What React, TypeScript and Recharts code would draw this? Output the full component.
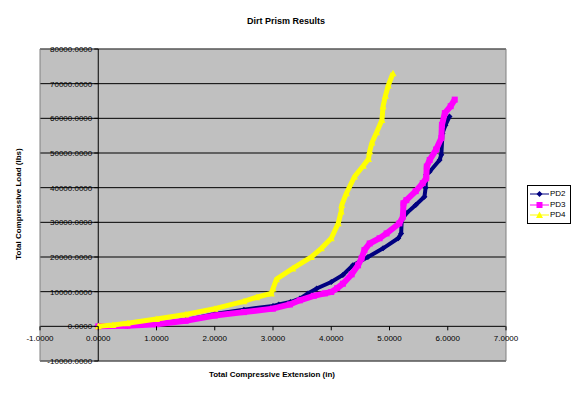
import React from "react";
import {
  ScatterChart,
  Scatter,
  XAxis,
  YAxis,
  CartesianGrid,
  ReferenceLine,
  ReferenceArea,
} from "recharts";

// Total compressive extension (in) / load (lbs)
const PD2_X = [0, 0.5, 1.0, 1.5, 2.0, 2.5, 3.0, 3.1, 3.3, 3.46, 3.6, 3.75, 4.0, 4.2, 4.37, 4.63, 4.89, 5.15, 5.2, 5.21, 5.29, 5.45, 5.6, 5.62, 5.63, 5.69, 5.86, 5.89, 5.91, 5.96, 6.03];
const PD2_Y = [0, 150, 700, 1800, 3600, 4800, 5900, 6300, 7000, 8000, 9500, 10900, 12800, 14800, 17600, 20000, 22500, 25400, 26800, 30700, 32600, 35000, 37400, 40000, 43700, 44600, 48000, 49500, 55700, 58000, 60500];

const PD3_X = [0, 0.5, 1.0, 1.5, 2.0, 2.5, 3.0, 3.29, 3.46, 3.7, 3.89, 4.0, 4.1, 4.2, 4.35, 4.46, 4.52, 4.57, 4.66, 4.83, 4.95, 5.17, 5.23, 5.24, 5.29, 5.45, 5.57, 5.63, 5.64, 5.69, 5.8, 5.89, 5.9, 5.95, 6.05, 6.12];
const PD3_Y = [0, 200, 600, 1600, 3100, 4100, 5100, 6300, 7500, 8800, 9500, 9900, 11000, 12300, 15000, 17600, 19600, 22000, 23900, 25400, 26800, 29700, 31600, 35500, 36400, 39000, 41300, 42700, 46100, 48000, 51000, 54300, 58100, 61500, 63500, 65400];

const PD4_X = [0, 0.25, 0.5, 1.0, 1.5, 2.0, 2.5, 2.72, 2.97, 3.0, 3.06, 3.34, 3.66, 3.83, 4.0, 4.12, 4.17, 4.18, 4.26, 4.4, 4.55, 4.64, 4.66, 4.7, 4.78, 4.87, 4.89, 4.93, 4.98, 5.06];
const PD4_Y = [0, 400, 900, 2100, 3400, 5100, 7200, 8400, 9500, 10900, 13600, 16700, 20000, 22500, 25400, 29700, 33100, 35000, 38400, 43200, 46300, 48300, 50500, 53000, 56000, 59500, 63500, 66500, 69500, 73000];

const X_TICKS = [-1, 0, 1, 2, 3, 4, 5, 6, 7];
const Y_TICKS = [-10000, 0, 10000, 20000, 30000, 40000, 50000, 60000, 70000, 80000];

const W = 575;
const H = 393;
const AX_X_H = 20;
const AX_Y_W = 20;
// plot area: left 40, right 506, top 49, bottom 361
const M = { top: 49, right: 69, bottom: 32 - AX_X_H, left: 40 - AX_Y_W };
const X_DOM: [number, number] = [-1, 7];
const Y_DOM: [number, number] = [-10000, 80000];
const PLOT_L = M.left + AX_Y_W;
const PLOT_W = W - PLOT_L - M.right;
const PLOT_H = H - M.top - M.bottom - AX_X_H;
// where the axes cross (x = 0, y = 0)
const ZERO_X = PLOT_L + (PLOT_W * (0 - X_DOM[0])) / (X_DOM[1] - X_DOM[0]);
const ZERO_Y = M.top + (PLOT_H * (Y_DOM[1] - 0)) / (Y_DOM[1] - Y_DOM[0]);

const FONT = "'Liberation Sans', Arial, sans-serif";

const zip = (xs: number[], ys: number[]) => xs.map((x, i) => ({ x, y: ys[i] }));

const SERIES = [
  { name: "PD2", color: "#000080", data: zip(PD2_X, PD2_Y), width: 4, marker: "diamond" },
  { name: "PD3", color: "#FF00FF", data: zip(PD3_X, PD3_Y), width: 6, marker: "square" },
  { name: "PD4", color: "#FFFF00", data: zip(PD4_X, PD4_Y), width: 5, marker: "triangle" },
];

function Marker({ kind, cx, cy, color }: { kind: string; cx: number; cy: number; color: string }) {
  if (kind === "diamond") {
    return <polygon points={`${cx},${cy - 3} ${cx + 3},${cy} ${cx},${cy + 3} ${cx - 3},${cy}`} fill={color} />;
  }
  if (kind === "square") {
    return <rect x={cx - 3} y={cy - 3} width={6} height={6} fill={color} />;
  }
  return <polygon points={`${cx},${cy - 3.5} ${cx + 3.5},${cy + 3} ${cx - 3.5},${cy + 3}`} fill={color} />;
}

const renderXTick = (props: any) => {
  const { x, payload } = props;
  return (
    <g>
      <line x1={x} x2={x} y1={ZERO_Y} y2={ZERO_Y + 4} stroke="#000" />
      <text x={x} y={ZERO_Y + 15} textAnchor="middle" fontSize={8} fontFamily={FONT} fill="#000">
        {Number(payload.value).toFixed(4)}
      </text>
    </g>
  );
};

const renderYTick = (props: any) => {
  const { y, payload } = props;
  return (
    <g>
      <line x1={ZERO_X - 4} x2={ZERO_X} y1={y} y2={y} stroke="#000" />
      <text x={ZERO_X - 6} y={y + 3} textAnchor="end" fontSize={8} fontFamily={FONT} fill="#000">
        {Number(payload.value).toFixed(4)}
      </text>
    </g>
  );
};

const LegendBox = () => (
  <div
    style={{
      position: "absolute",
      left: 527,
      top: 185,
      border: "1px solid #000",
      background: "#fff",
      padding: "3px 1px 2px 2px",
      fontSize: 8,
      lineHeight: "10.5px",
      width: 39,
    }}
  >
    {SERIES.map((s) => (
      <div key={s.name} style={{ display: "flex", alignItems: "center", height: 10.5 }}>
        <svg width={19} height={10} style={{ display: "block" }}>
          <line x1={0} x2={19} y1={5} y2={5} stroke={s.color} strokeWidth={1} />
          <Marker kind={s.marker} cx={9.5} cy={5} color={s.color} />
        </svg>
        <span style={{ marginLeft: 1 }}>{s.name}</span>
      </div>
    ))}
  </div>
);

export default function App() {
  return (
    <div style={{ position: "absolute", left: 0, top: 0, width: W, height: H, background: "#fff", fontFamily: FONT }}>
      <ScatterChart width={W} height={H} margin={M}>
        <CartesianGrid vertical={false} stroke="#000" fill="#C0C0C0" fillOpacity={1} />
        <XAxis
          type="number"
          dataKey="x"
          domain={X_DOM}
          ticks={X_TICKS}
          allowDataOverflow
          height={AX_X_H}
          axisLine={false}
          tickLine={false}
          tick={renderXTick}
          interval={0}
        />
        <YAxis
          type="number"
          dataKey="y"
          domain={Y_DOM}
          ticks={Y_TICKS}
          allowDataOverflow
          width={AX_Y_W}
          axisLine={false}
          tickLine={false}
          tick={renderYTick}
          interval={0}
        />
        <ReferenceArea x1={X_DOM[0]} x2={X_DOM[1]} y1={Y_DOM[0]} y2={Y_DOM[1]} fill="none" stroke="#808080" strokeWidth={1} />
        <ReferenceLine x={0} stroke="#000" strokeWidth={1} />
        {SERIES.map((s) => (
          <Scatter
            key={s.name}
            name={s.name}
            data={s.data}
            fill={s.color}
            line={{ stroke: s.color, strokeWidth: s.width }}
            lineJointType="linear"
            isAnimationActive={false}
            shape={(p: any) => <Marker kind={s.marker} cx={p.cx} cy={p.cy} color={s.color} />}
          />
        ))}
      </ScatterChart>
      <div
        style={{
          position: "absolute",
          left: 0,
          width: 572,
          top: 16,
          textAlign: "center",
          fontSize: 9,
          fontWeight: "bold",
        }}
      >
        Dirt Prism Results
      </div>
      <div
        style={{
          position: "absolute",
          left: 0,
          width: 544,
          top: 370,
          textAlign: "center",
          fontSize: 8,
          fontWeight: "bold",
        }}
      >
        Total Compressive Extension (in)
      </div>
      <div
        style={{
          position: "absolute",
          left: 18,
          top: 204,
          transform: "translate(-50%, -50%) rotate(-90deg)",
          whiteSpace: "nowrap",
          fontSize: 8,
          fontWeight: "bold",
        }}
      >
        Total Compressive Load (lbs)
      </div>
      <LegendBox />
    </div>
  );
}
